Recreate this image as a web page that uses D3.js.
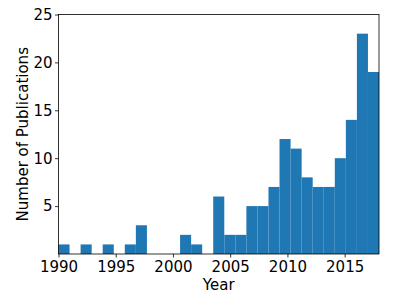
<!DOCTYPE html>
<html>
<head>
<meta charset="utf-8">
<script src="https://cdn.jsdelivr.net/npm/d3@7"></script>
<style>
  body { margin: 0; background: #fff; }
  text { font-family: "DejaVu Sans", sans-serif; fill: #000; }
</style>
</head>
<body>
<div id="chart"></div>
<script>
// histogram: 29 equal bins over 1990..2018
const binStart = 1990;
const binEnd = 2018;
const counts = [1, 0, 1, 0, 1, 0, 1, 3, 0, 0, 0, 2, 1, 0, 6, 2, 2, 5, 5, 7, 12, 11, 8, 7, 7, 10, 14, 23, 19];
const xTicks = [1990, 1995, 2000, 2005, 2010, 2015];
const yTicks = [5, 10, 15, 20, 25];

const width = 399, height = 299;
const margin = {top: 14.5, right: 20, bottom: 45, left: 58.5};

const svg = d3.select("#chart")
  .append("svg")
    .attr("width", width)
    .attr("height", height);

const x = d3.scaleLinear()
  .domain([binStart, binEnd])
  .range([margin.left, width - margin.right]);

const y = d3.scaleLinear()
  .domain([0, 25])
  .range([height - margin.bottom, margin.top]);

const binW = (binEnd - binStart) / counts.length;

svg.append("g")
  .selectAll("rect")
  .data(counts)
  .join("rect")
    .attr("x", (d, i) => x(binStart + i * binW))
    .attr("width", (d, i) => x(binStart + (i + 1) * binW) - x(binStart + i * binW))
    .attr("y", d => y(d))
    .attr("height", d => y(0) - y(d))
    .style("fill", "#1f77b4");

// frame
svg.append("rect")
  .attr("x", margin.left)
  .attr("y", margin.top)
  .attr("width", width - margin.left - margin.right)
  .attr("height", height - margin.top - margin.bottom)
  .style("fill", "none")
  .style("stroke", "#000")
  .style("stroke-width", 0.8);

const xAxis = svg.append("g")
  .attr("transform", `translate(0,${height - margin.bottom})`)
  .call(d3.axisBottom(x).tickValues(xTicks).tickFormat(d3.format("d")).tickSize(3.5).tickPadding(4));

const yAxis = svg.append("g")
  .attr("transform", `translate(${margin.left},0)`)
  .call(d3.axisLeft(y).tickValues(yTicks).tickSize(3.5).tickPadding(2.5));

[xAxis, yAxis].forEach(g => {
  g.select(".domain").remove();
  g.selectAll("line").style("stroke", "#000").style("stroke-width", 0.8);
  g.selectAll("text").style("font-size", "15px").style("font-family", "DejaVu Sans");
});

svg.append("text")
  .attr("x", (margin.left + width - margin.right) / 2)
  .attr("y", 290)
  .attr("text-anchor", "middle")
  .style("font-size", "15px")
  .text("Year");

svg.append("text")
  .attr("transform", `translate(28,${(margin.top + height - margin.bottom) / 2}) rotate(-90)`)
  .attr("text-anchor", "middle")
  .style("font-size", "15px")
  .text("Number of Publications");
</script>
</body>
</html>
